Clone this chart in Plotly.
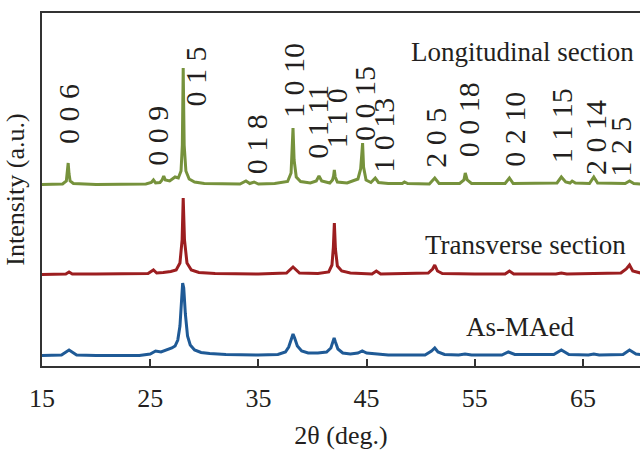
import plotly.graph_objects as go

# ---- XRD patterns (2-theta in degrees, intensity in arbitrary units above each baseline) ----
tt_long = [15.0, 16.9, 17.25, 17.35, 17.42, 17.5, 17.6, 17.9, 20.0, 24.6, 25.1, 25.3, 25.5, 25.9, 26.1,
           26.25, 26.4, 26.8, 27.3, 27.6, 27.85, 27.97, 28.05, 28.14, 28.3, 28.6, 29.1, 30.0, 33.3,
           33.85, 34.2, 34.6, 35.0, 36.5, 37.7, 38.02, 38.12, 38.2, 38.3, 38.5, 38.9, 39.8, 40.35,
           40.6, 40.85, 41.6, 41.85, 41.95, 42.02, 42.1, 42.3, 43.2, 44.2, 44.45, 44.55, 44.63, 44.72,
           44.95, 45.4, 45.8, 46.1, 47.0, 48.3, 48.5, 48.8, 50.8, 51.3, 51.7, 53.6, 54.0, 54.12, 54.3,
           54.7, 57.8, 58.2, 58.55, 62.6, 63.0, 63.4, 63.8, 64.0, 64.3, 65.6, 66.0, 66.35, 68.9, 69.3,
           69.7, 70.3]
i_long = [0.5, 1.0, 4.0, 12.0, 22.0, 11.0, 4.0, 1.5, 0.5, 1.0, 2.5, 5.0, 2.0, 2.5, 5.0,
          9.0, 5.0, 4.0, 8.0, 7.0, 14.0, 40.0, 117.0, 40.0, 14.0, 6.0, 3.0, 1.5, 1.0,
          4.0, 1.5, 3.0, 1.0, 1.5, 3.5, 12.0, 30.0, 57.0, 25.0, 8.0, 3.5, 2.0, 4.0,
          9.0, 4.0, 2.0, 5.0, 9.0, 15.0, 8.0, 3.0, 2.0, 6.0, 16.0, 30.0, 42.0, 18.0,
          5.0, 2.5, 7.0, 2.5, 1.5, 1.5, 3.0, 1.5, 1.0, 7.0, 1.5, 1.5, 5.0, 12.0, 5.0,
          1.5, 1.5, 7.0, 1.5, 2.0, 8.0, 3.0, 2.0, 4.0, 2.0, 1.5, 8.0, 2.0, 1.5, 4.0,
          1.5, 1.0]

tt_trans = [15.0, 17.2, 17.5, 17.8, 20.0, 24.8, 25.3, 25.6, 26.2, 26.9, 27.4, 27.75, 27.95, 28.05,
            28.17, 28.4, 28.8, 29.5, 31.0, 35.0, 37.6, 38.2, 38.8, 40.5, 41.5, 41.8, 41.93, 42.02,
            42.12, 42.3, 42.7, 43.5, 45.5, 45.9, 46.3, 50.7, 51.1, 51.3, 51.55, 52.0, 55.0, 57.8,
            58.2, 58.6, 62.5, 63.0, 63.5, 68.5, 69.0, 69.3, 69.6, 70.3]
i_trans = [0.5, 1.0, 3.0, 1.0, 1.0, 1.5, 5.0, 2.0, 2.5, 3.5, 5.0, 12.0, 35.0, 77.0,
           35.0, 12.0, 5.0, 2.5, 1.5, 1.0, 2.0, 8.0, 2.0, 1.5, 3.0, 10.0, 28.0, 52.0,
           26.0, 9.0, 4.0, 2.0, 1.0, 4.0, 1.0, 2.0, 6.0, 10.0, 4.0, 1.5, 1.0, 1.0,
           4.0, 1.0, 1.0, 2.0, 1.0, 2.0, 6.0, 10.0, 4.0, 2.0]

tt_asma = [15.0, 16.8, 17.5, 18.2, 20.0, 24.0, 25.0, 25.5, 26.0, 26.6, 27.0, 27.3, 27.55, 27.75,
           27.9, 28.0, 28.1, 28.25, 28.45, 28.7, 29.1, 29.7, 30.5, 32.0, 35.0, 36.8, 37.5, 37.8,
           38.05, 38.2, 38.35, 38.6, 39.0, 39.6, 40.5, 41.3, 41.7, 41.9, 42.0, 42.12, 42.35, 42.8,
           43.5, 44.2, 44.6, 45.0, 45.8, 47.0, 50.4, 51.0, 51.3, 51.6, 52.2, 53.5, 54.1, 54.7,
           57.5, 58.1, 58.7, 62.3, 63.0, 63.7, 65.5, 66.0, 66.5, 68.7, 69.3, 69.9, 70.3]
i_asma = [0.5, 1.0, 6.0, 1.0, 0.5, 0.5, 2.0, 5.0, 4.0, 6.0, 8.0, 10.0, 16.0, 30.0,
          52.0, 73.0, 68.0, 42.0, 20.0, 11.0, 6.0, 3.5, 2.5, 1.5, 1.0, 1.5, 4.0, 9.0,
          17.0, 22.0, 18.0, 10.0, 5.0, 3.0, 3.0, 4.0, 8.0, 14.0, 18.0, 14.0, 7.0, 3.0,
          2.0, 3.0, 5.0, 3.0, 2.0, 1.0, 1.0, 5.0, 8.0, 4.0, 1.5, 1.0, 2.0, 1.0,
          1.0, 4.0, 1.5, 1.5, 6.0, 1.5, 1.0, 2.0, 1.0, 1.5, 6.0, 2.0, 1.5]

# vertical stacking offsets
offset_long, offset_trans, offset_asma = 181, 91, 10

series_names = ["Longitudinal section", "Transverse section", "As-MAed"]
series_colors = ["#76923C", "#9C1E20", "#1F5A96"]
name_pos = [(59.45, 314), (59.7, 121), (59.2, 39)]

# Miller indices of the longitudinal-section reflections
hkl_labels = ["0 0 6", "0 0 9", "0 1 5", "0 1 8", "1 0 10", "0 1 11", "1 1 0", "0 0 15",
              "1 0 13", "2 0 5", "0 0 18", "0 2 10", "1 1 15", "2 0 14", "1 2 5"]
hkl_x = [17.4, 25.6, 29.1, 34.8, 38.2, 40.4, 42.2, 44.75, 46.5, 51.3, 54.4, 58.6, 63.0, 66.1, 68.4]
hkl_y = [252, 230, 289, 222, 285, 244, 248, 263, 231, 228, 246, 237, 240, 229, 219]

x_ticks = [15, 25, 35, 45, 55, 65]

FONT = "Liberation Serif"

fig = go.Figure()
for tt, inten, off, color, name in [(tt_long, i_long, offset_long, series_colors[0], series_names[0]),
                                    (tt_trans, i_trans, offset_trans, series_colors[1], series_names[1]),
                                    (tt_asma, i_asma, offset_asma, series_colors[2], series_names[2])]:
    fig.add_trace(go.Scatter(x=tt, y=[v + off for v in inten], mode="lines", name=name,
                             line=dict(color=color, width=3), showlegend=False))

for name, (nx, ny) in zip(series_names, name_pos):
    fig.add_annotation(x=nx, y=ny, text=name, showarrow=False,
                       font=dict(family=FONT, size=27, color="#231F20"))

for lab, lx, ly in zip(hkl_labels, hkl_x, hkl_y):
    fig.add_annotation(x=lx, y=ly, text=lab, showarrow=False, textangle=-90,
                       font=dict(family=FONT, size=30, color="#231F20"))

fig.update_layout(
    width=640, height=454,
    margin=dict(l=42, r=0, t=13, b=88),
    paper_bgcolor="white", plot_bgcolor="white",
    font=dict(family=FONT, size=24, color="#231F20"),
    xaxis=dict(range=[15, 70.27], tickmode="array", tickvals=x_ticks,
               ticks="inside", ticklen=7, tickwidth=1.5, tickcolor="#333333",
               showline=True, linecolor="#333333", linewidth=2, mirror=True,
               showgrid=False, zeroline=False, ticklabelstandoff=8,
               title=dict(text="2θ (deg.)", font=dict(size=26), standoff=14),
               tickfont=dict(size=26)),
    yaxis=dict(range=[0, 353], showticklabels=False, ticks="",
               showline=True, linecolor="#333333", linewidth=2, mirror=False,
               showgrid=False, zeroline=False,
               title=dict(text="Intensity (a.u.)", font=dict(size=26), standoff=8)),
)

fig.write_html("out.html")
